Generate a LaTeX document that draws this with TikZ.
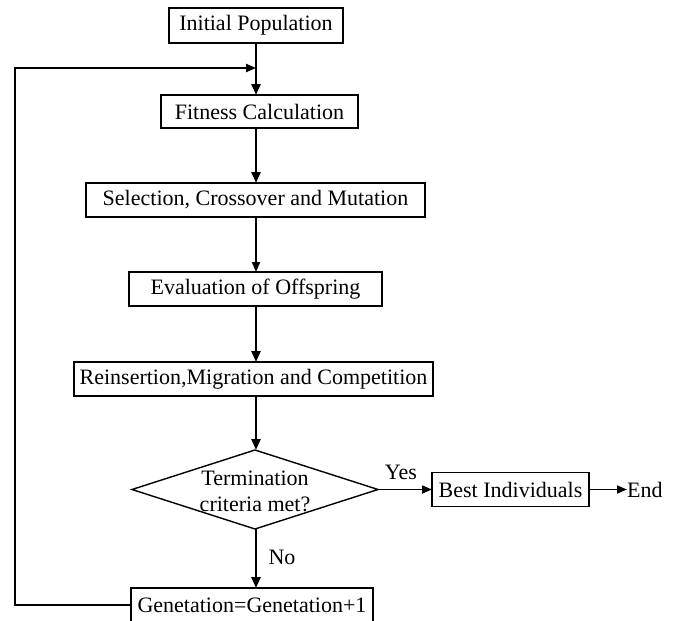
\documentclass[tikz,border=0pt]{standalone}
\usepackage{fontspec}
\setmainfont{Liberation Serif}
\usetikzlibrary{arrows.meta,shapes.geometric}
\begin{document}
\begin{tikzpicture}[x=1pt,y=-1pt,
  txt/.style={font=\fontsize{22}{26.5}\selectfont},
  box/.style={txt, draw, line width=1.6pt, minimum height=34pt, inner sep=0pt, outer sep=0pt},
  lbl/.style={txt, inner sep=0pt},
  thickarrow/.style={line width=2.6pt, -{Triangle[length=11pt,width=9pt]}},
  thinarrow/.style={line width=1.7pt, -{Triangle[length=10pt,width=8pt]}},
  loopline/.style={line width=2.3pt, -{Triangle[length=10pt,width=8pt]}}]
\useasboundingbox[fill=white] (0,0) rectangle (675,621);
\coordinate (axis) at (256,0);
\node[box, minimum width=174pt, minimum height=35pt] (init) at (256,25.5) {Initial Population};
\node[box, minimum width=197pt, minimum height=33pt] (fit) at (259.5,111.5) {Fitness Calculation};
\node[box, minimum width=339pt] (sel) at (255.5,200) {Selection, Crossover and Mutation};
\node[box, minimum width=253pt] (eval) at (255.5,289) {Evaluation of Offspring};
\node[box, minimum width=359pt] (reins) at (253.5,379) {Reinsertion,Migration and Competition};
\node[diamond, draw, line width=1.4pt, minimum width=246pt, minimum height=79pt, inner sep=0pt, outer sep=0pt] (diam) at (255,489.5) {};
\node[lbl, align=center] (diamtxt) at (255,491.5) {Termination\\criteria met?};
\node[box, minimum width=157pt] (best) at (510.5,489.5) {Best Individuals};
\node[lbl, anchor=west] (end) at (627,489.5) {End};
\node[box, minimum width=242pt] (gen) at (252,605) {Genetation=Genetation+1};
\node[lbl] (yes) at (401,472) {Yes};
\node[lbl] (no) at (282,557) {No};
\coordinate (loopin) at (256,68);
\coordinate (loopL) at (15,68);

\draw[thickarrow] (init.south -| axis) -- (fit.north -| axis);
\draw[thickarrow] (fit.south -| axis) -- (sel.north -| axis);
\draw[thinarrow] (sel.south -| axis) -- (eval.north -| axis);
\draw[thickarrow] (eval.south -| axis) -- (reins.north -| axis);
\draw[thickarrow] (reins.south -| axis) -- (diam.north -| axis);
\draw[thickarrow] (diam.south -| axis) -- (gen.north -| axis);
\draw[thinarrow] (diam.east) -- (best.west);
\draw[thinarrow] (best.east) -- (end.west);
\draw[loopline] (gen.west) -| (loopL) -- (loopin);
\end{tikzpicture}
\end{document}
